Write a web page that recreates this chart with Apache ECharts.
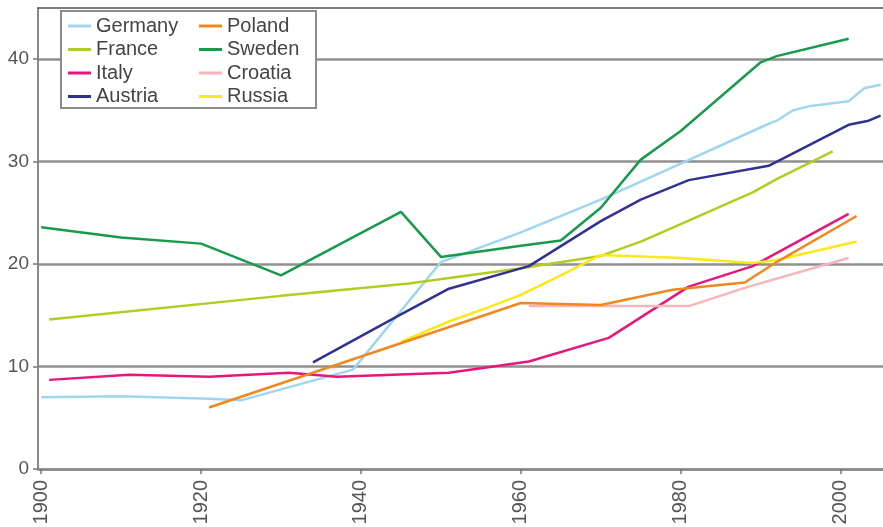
<!DOCTYPE html>
<html>
<head>
<meta charset="utf-8">
<script src="https://cdn.jsdelivr.net/npm/echarts@6/dist/echarts.min.js"></script>
<style>
html,body{margin:0;padding:0;background:#fff;}
#chart{width:883px;height:527px;}
</style>
</head>
<body>
<div id="chart"></div>
<script>
// ---- data ----
const countries = ['Germany','France','Italy','Austria','Poland','Sweden','Croatia','Russia'];
const colors = {
  Germany:'#9ed6f0', France:'#b2cc22', Italy:'#e5177b', Austria:'#2f3290',
  Poland:'#f0871f', Sweden:'#179a4c', Croatia:'#f7b4ba', Russia:'#fbe817'
};
const xTicks = [1900,1920,1940,1960,1980,2000];
const yTicks = [0,10,20,30,40];

const germanyYears  = [1900,1910,1921,1925,1939,1950,1960,1970,1980,1991,1992,1994,1996,2001,2003,2005];
const germanyValues = [7.0,7.1,6.85,6.7,9.7,20.2,23.1,26.3,29.8,33.7,34.0,35.0,35.4,35.9,37.2,37.5];

const franceYears  = [1901,1930,1946,1960,1970,1975,1980,1989,1992,1999];
const franceValues = [14.6,16.9,18.1,19.6,20.8,22.2,23.9,27.0,28.3,31.0];

const italyYears  = [1901,1911,1921,1931,1937,1951,1961,1971,1981,1989,2001];
const italyValues = [8.7,9.2,9.0,9.4,9.0,9.4,10.5,12.8,17.8,19.8,24.9];

const austriaYears  = [1934,1945,1951,1961,1970,1975,1981,1991,2001,2003.5,2005];
const austriaValues = [10.4,15.1,17.6,19.8,24.2,26.3,28.2,29.6,33.6,34.0,34.5];

const polandYears  = [1921,1960,1970,1979,1988,1992,2002];
const polandValues = [6.0,16.2,16.0,17.5,18.2,20.2,24.7];

const swedenYears  = [1900,1910,1920,1930,1945,1950,1960,1965,1970,1975,1980,1990,1992,2001];
const swedenValues = [23.6,22.6,22.0,18.9,25.1,20.7,21.8,22.3,25.5,30.2,33.0,39.7,40.3,42.0];

const croatiaYears  = [1961,1981,1988.5,2001];
const croatiaValues = [15.9,15.9,17.8,20.6];

const russiaYears  = [1945,1951,1956,1960,1965,1970,1980,1989,1992,2002];
const russiaValues = [12.4,14.4,15.8,17.0,18.9,20.9,20.6,20.1,20.4,22.2];

const seriesData = {
  Germany:[germanyYears,germanyValues], France:[franceYears,franceValues],
  Italy:[italyYears,italyValues], Austria:[austriaYears,austriaValues],
  Poland:[polandYears,polandValues], Sweden:[swedenYears,swedenValues],
  Croatia:[croatiaYears,croatiaValues], Russia:[russiaYears,russiaValues]
};
const drawOrder = ['Germany','France','Italy','Austria','Russia','Croatia','Poland','Sweden'];

const FONT = '"Liberation Sans", Arial, sans-serif';

const legendCommon = {
  orient:'vertical', top:16, padding:0,
  itemWidth:23, itemHeight:3, itemGap:3.5, itemTextGap:11, icon:'rect', z:101,
  textStyle:{fontFamily:FONT,fontSize:20,color:'#444'}
};

const chart = echarts.init(document.getElementById('chart'));
chart.setOption({
  animation:false,
  backgroundColor:'#fff',
  grid:{left:38,right:0,top:8,bottom:58,outerBoundsMode:'none',containLabel:false},
  graphic:[{
    type:'rect', left:60, top:10, z:100,
    shape:{width:255,height:97},
    style:{fill:'#fff',stroke:'#8c8c8c',lineWidth:2}
  }],
  legend:[
    Object.assign({data:countries.slice(0,4), left:68}, legendCommon),
    Object.assign({data:countries.slice(4), left:199}, legendCommon)
  ],
  xAxis:[{
    type:'value', min:1899.6, max:2005.3,
    axisLine:{show:true,onZero:false,lineStyle:{color:'#8a8a8a',width:2.5}},
    axisTick:{show:true,customValues:xTicks,length:5,lineStyle:{color:'#777',width:1.5}},
    axisLabel:{show:true,customValues:xTicks,rotate:90,margin:11,
      fontFamily:FONT,fontSize:20,color:'#555',formatter:v=>String(v)},
    splitLine:{show:false}
  },{
    type:'value', position:'top', min:1899.6, max:2005.3,
    axisLine:{show:true,onZero:false,lineStyle:{color:'#555',width:1.5}},
    axisTick:{show:false}, axisLabel:{show:false}, splitLine:{show:false}
  }],
  yAxis:{
    type:'value', min:0, max:45, interval:5,
    axisLine:{show:true,lineStyle:{color:'#8a8a8a',width:2}},
    axisTick:{show:true,customValues:yTicks,length:5,lineStyle:{color:'#777',width:1.5}},
    axisLabel:{show:true,customValues:yTicks,margin:9,
      fontFamily:FONT,fontSize:19,color:'#555'},
    splitLine:{show:true,lineStyle:{color:'#8f8f8f',width:2.5}}
  },
  series: drawOrder.map(name=>({
    name, type:'line', showSymbol:false, symbol:'none', smooth:false,
    color:colors[name],
    lineStyle:{color:colors[name],width:2.5},
    data: seriesData[name][0].map((y,i)=>[y, seriesData[name][1][i]])
  }))
});
</script>
</body>
</html>
